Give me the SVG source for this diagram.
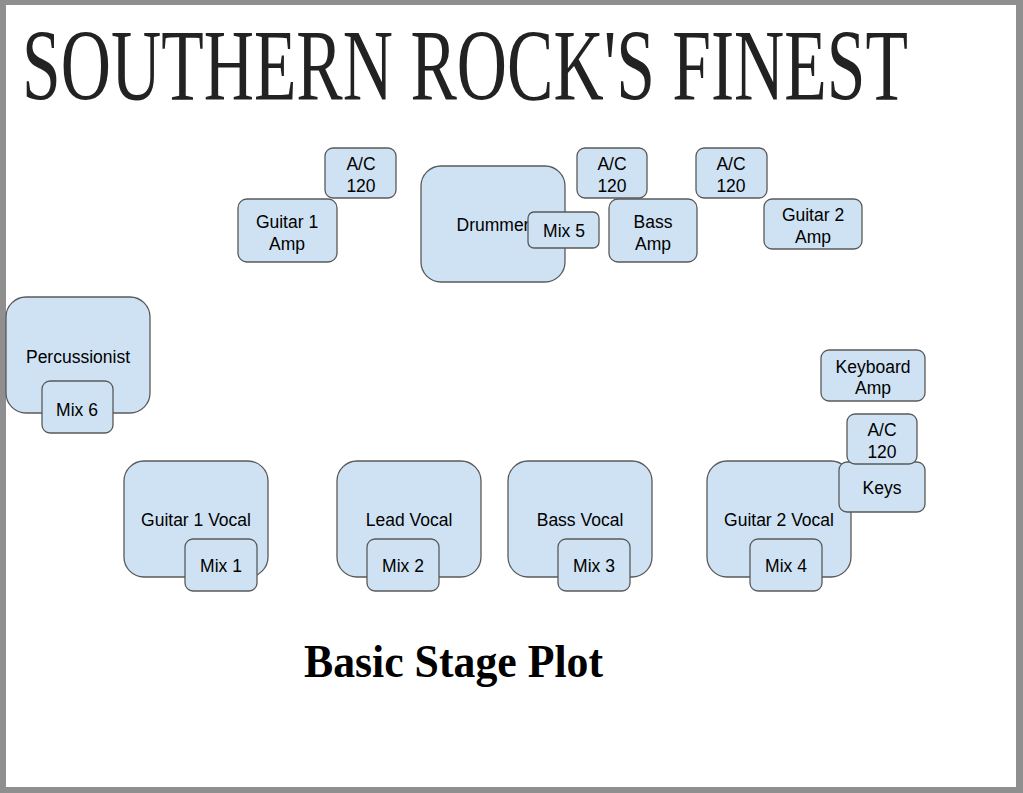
<svg xmlns="http://www.w3.org/2000/svg" width="1023" height="793" viewBox="0 0 1023 793">
<style>
.b{fill:#cfe2f3;stroke:#595959;stroke-width:1.3}
.t{font-family:"Liberation Sans",Arial,sans-serif;font-size:17.5px;fill:#000;text-anchor:middle}
</style>
<rect x="0" y="0" width="1023" height="793" fill="#8f8f8f"/>
<rect x="6" y="5" width="1010" height="782" fill="#ffffff"/>
<text id="title" transform="translate(22,100) scale(1,1.8)" x="0" y="0" font-family="Liberation Serif,serif" font-size="57" fill="#222" textLength="886" lengthAdjust="spacingAndGlyphs">SOUTHERN ROCK'S FINEST</text>
<g id="connectors"/>
<g id="ac1"><rect class="b" x="325" y="148" width="71" height="50" rx="8"/><text class="t" x="361" y="170">A/C<tspan x="361" dy="21.5">120</tspan></text></g>
<g id="guitar1amp"><rect class="b" x="238" y="199" width="99" height="63" rx="9"/><text class="t" x="287" y="228">Guitar 1<tspan x="287" dy="21.5">Amp</tspan></text></g>
<g id="drummer"><rect class="b" x="421" y="166" width="144" height="116" rx="20"/><text class="t" x="493" y="231">Drummer</text></g>
<g id="mix5"><rect class="b" x="528" y="212" width="71" height="36" rx="6"/><text class="t" x="564" y="237">Mix 5</text></g>
<g id="ac2"><rect class="b" x="577" y="148" width="70" height="50" rx="8"/><text class="t" x="612" y="170">A/C<tspan x="612" dy="21.5">120</tspan></text></g>
<g id="bassamp"><rect class="b" x="609" y="199" width="88" height="63" rx="9"/><text class="t" x="653" y="228">Bass<tspan x="653" dy="21.5">Amp</tspan></text></g>
<g id="ac3"><rect class="b" x="696" y="148" width="71" height="50" rx="8"/><text class="t" x="731" y="170">A/C<tspan x="731" dy="21.5">120</tspan></text></g>
<g id="guitar2amp"><rect class="b" x="764" y="199" width="98" height="50" rx="8"/><text class="t" x="813" y="221">Guitar 2<tspan x="813" dy="21.5">Amp</tspan></text></g>
<g id="percussionist"><rect class="b" x="6" y="297" width="144" height="116" rx="20"/><text class="t" x="78" y="363">Percussionist</text></g>
<g id="mix6"><rect class="b" x="42" y="381" width="71" height="52" rx="8"/><text class="t" x="77" y="416">Mix 6</text></g>
<g id="keyboardamp"><rect class="b" x="821" y="350" width="104" height="51" rx="8"/><text class="t" x="873" y="373">Keyboard<tspan x="873" dy="21">Amp</tspan></text></g>
<g id="guitar1vocal"><rect class="b" x="124" y="461" width="144" height="116" rx="20"/><text class="t" x="196" y="526">Guitar 1 Vocal</text></g>
<g id="mix1"><rect class="b" x="185" y="539" width="72" height="52" rx="8"/><text class="t" x="221" y="572">Mix 1</text></g>
<g id="leadvocal"><rect class="b" x="337" y="461" width="144" height="116" rx="20"/><text class="t" x="409" y="526">Lead Vocal</text></g>
<g id="mix2"><rect class="b" x="367" y="539" width="72" height="52" rx="8"/><text class="t" x="403" y="572">Mix 2</text></g>
<g id="bassvocal"><rect class="b" x="508" y="461" width="144" height="116" rx="20"/><text class="t" x="580" y="526">Bass Vocal</text></g>
<g id="mix3"><rect class="b" x="558" y="539" width="72" height="52" rx="8"/><text class="t" x="594" y="572">Mix 3</text></g>
<g id="guitar2vocal"><rect class="b" x="707" y="461" width="144" height="116" rx="20"/><text class="t" x="779" y="526">Guitar 2 Vocal</text></g>
<g id="mix4"><rect class="b" x="750" y="539" width="72" height="52" rx="8"/><text class="t" x="786" y="572">Mix 4</text></g>
<g id="keys"><rect class="b" x="839" y="462" width="86" height="50" rx="8"/><text class="t" x="882" y="494">Keys</text></g>
<g id="ac4"><rect class="b" x="847" y="414" width="70" height="50" rx="8"/><text class="t" x="882" y="436">A/C<tspan x="882" dy="21.5">120</tspan></text></g>
<text id="subtitle" x="304" y="677" font-family="Liberation Serif,serif" font-weight="bold" font-size="47" fill="#000" textLength="299" lengthAdjust="spacingAndGlyphs">Basic Stage Plot</text>
</svg>
